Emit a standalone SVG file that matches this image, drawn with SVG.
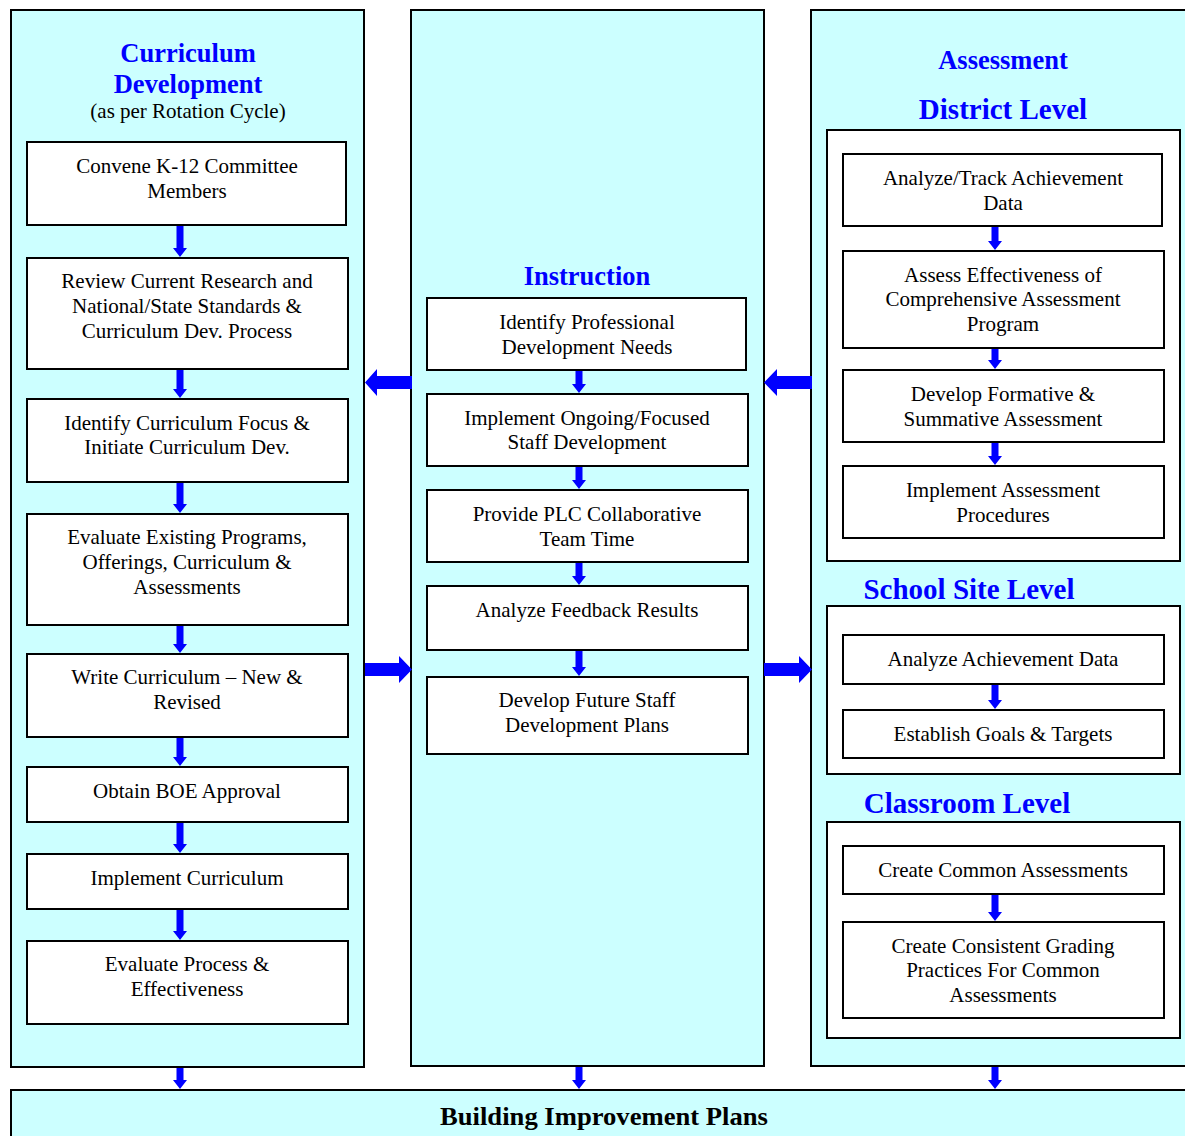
<svg xmlns="http://www.w3.org/2000/svg" width="1185" height="1136" viewBox="0 0 1185 1136">
<style>
.panel{fill:#ccffff;stroke:#000;stroke-width:2}
.inner{fill:#fff;stroke:#000;stroke-width:2}
.box{fill:#fff;stroke:#000;stroke-width:2}
.t{font-family:"Liberation Serif","Times New Roman",serif;font-size:21px;fill:#000;text-anchor:middle}
.h{font-family:"Liberation Serif","Times New Roman",serif;font-weight:bold;fill:#0000ff;text-anchor:middle}
.arr{fill:#0000ff}
</style>
<rect width="1185" height="1136" fill="#fff"/>

<g id="panel-curriculum">
<rect class="panel" x="11" y="10" width="353" height="1057"/>
<text class="h" x="188" y="62" font-size="26.5">Curriculum</text>
<text class="h" x="188" y="93" font-size="26.5">Development</text>
<text class="t" x="188" y="118">(as per Rotation Cycle)</text>
</g>
<g id="panel-instruction">
<rect class="panel" x="411" y="10" width="353" height="1056"/>
<text class="h" x="587" y="285" font-size="26.5">Instruction</text>
</g>
<g id="panel-assessment">
<rect class="panel" x="811" y="10" width="385" height="1056"/>
<text class="h" x="1003" y="69" font-size="26.5">Assessment</text>
<text class="h" x="1003" y="119" font-size="29">District Level</text>
<text class="h" x="969" y="599" font-size="29">School Site Level</text>
<text class="h" x="967" y="813" font-size="29">Classroom Level</text>
</g>
<g id="district-level"><rect class="inner" x="827" y="130" width="353" height="431"/></g>
<g id="school-site-level"><rect class="inner" x="827" y="606" width="353" height="168"/></g>
<g id="classroom-level"><rect class="inner" x="827" y="822" width="353" height="216"/></g>

<g id="c1"><rect class="box" x="27" y="142" width="319" height="83"/><text class="t" x="187" y="173">Convene K-12 Committee</text><text class="t" x="187" y="198">Members</text></g>
<g id="c2"><rect class="box" x="27" y="258" width="321" height="111"/><text class="t" x="187" y="288">Review Current Research and</text><text class="t" x="187" y="313">National/State Standards &amp;</text><text class="t" x="187" y="338">Curriculum Dev. Process</text></g>
<g id="c3"><rect class="box" x="27" y="399" width="321" height="83"/><text class="t" x="187" y="430">Identify Curriculum Focus &amp;</text><text class="t" x="187" y="454">Initiate Curriculum Dev.</text></g>
<g id="c4"><rect class="box" x="27" y="514" width="321" height="111"/><text class="t" x="187" y="544">Evaluate Existing Programs,</text><text class="t" x="187" y="569">Offerings, Curriculum &amp;</text><text class="t" x="187" y="594">Assessments</text></g>
<g id="c5"><rect class="box" x="27" y="654" width="321" height="83"/><text class="t" x="187" y="684">Write Curriculum – New &amp;</text><text class="t" x="187" y="709">Revised</text></g>
<g id="c6"><rect class="box" x="27" y="767" width="321" height="55"/><text class="t" x="187" y="798">Obtain BOE Approval</text></g>
<g id="c7"><rect class="box" x="27" y="854" width="321" height="55"/><text class="t" x="187" y="885">Implement Curriculum</text></g>
<g id="c8"><rect class="box" x="27" y="941" width="321" height="83"/><text class="t" x="187" y="971">Evaluate Process &amp;</text><text class="t" x="187" y="996">Effectiveness</text></g>

<g id="i1"><rect class="box" x="427" y="298" width="319" height="72"/><text class="t" x="587" y="329">Identify Professional</text><text class="t" x="587" y="354">Development Needs</text></g>
<g id="i2"><rect class="box" x="427" y="394" width="321" height="72"/><text class="t" x="587" y="425">Implement Ongoing/Focused</text><text class="t" x="587" y="449">Staff Development</text></g>
<g id="i3"><rect class="box" x="427" y="490" width="321" height="72"/><text class="t" x="587" y="521">Provide PLC Collaborative</text><text class="t" x="587" y="546">Team Time</text></g>
<g id="i4"><rect class="box" x="427" y="586" width="321" height="64"/><text class="t" x="587" y="617">Analyze Feedback Results</text></g>
<g id="i5"><rect class="box" x="427" y="677" width="321" height="77"/><text class="t" x="587" y="707">Develop Future Staff</text><text class="t" x="587" y="732">Development Plans</text></g>

<g id="a1"><rect class="box" x="843" y="154" width="319" height="72"/><text class="t" x="1003" y="185">Analyze/Track Achievement</text><text class="t" x="1003" y="210">Data</text></g>
<g id="a2"><rect class="box" x="843" y="251" width="321" height="97"/><text class="t" x="1003" y="282">Assess Effectiveness of</text><text class="t" x="1003" y="306">Comprehensive Assessment</text><text class="t" x="1003" y="331">Program</text></g>
<g id="a3"><rect class="box" x="843" y="370" width="321" height="72"/><text class="t" x="1003" y="401">Develop Formative &amp;</text><text class="t" x="1003" y="426">Summative Assessment</text></g>
<g id="a4"><rect class="box" x="843" y="466" width="321" height="72"/><text class="t" x="1003" y="497">Implement Assessment</text><text class="t" x="1003" y="522">Procedures</text></g>
<g id="s1"><rect class="box" x="843" y="635" width="321" height="49"/><text class="t" x="1003" y="666">Analyze Achievement Data</text></g>
<g id="s2"><rect class="box" x="843" y="710" width="321" height="48"/><text class="t" x="1003" y="741">Establish Goals &amp; Targets</text></g>
<g id="r1"><rect class="box" x="843" y="846" width="321" height="48"/><text class="t" x="1003" y="877">Create Common Assessments</text></g>
<g id="r2"><rect class="box" x="843" y="922" width="321" height="96"/><text class="t" x="1003" y="953">Create Consistent Grading</text><text class="t" x="1003" y="977">Practices For Common</text><text class="t" x="1003" y="1002">Assessments</text></g>

<g id="building-improvement-plans">
<rect class="panel" x="11" y="1090" width="1190" height="60"/>
<text x="604" y="1125" font-family="'Liberation Serif','Times New Roman',serif" font-weight="bold" font-size="25" text-anchor="middle" textLength="328" lengthAdjust="spacingAndGlyphs">Building Improvement Plans</text>
</g>

<g id="connectors" class="arr">
<polygon points="176.5,226 183.5,226 183.5,248 187,248 180,257 173,248 176.5,248"/>
<polygon points="176.5,370 183.5,370 183.5,389 187,389 180,398 173,389 176.5,389"/>
<polygon points="176.5,483 183.5,483 183.5,504 187,504 180,513 173,504 176.5,504"/>
<polygon points="176.5,626 183.5,626 183.5,644 187,644 180,653 173,644 176.5,644"/>
<polygon points="176.5,738 183.5,738 183.5,757 187,757 180,766 173,757 176.5,757"/>
<polygon points="176.5,823 183.5,823 183.5,844 187,844 180,853 173,844 176.5,844"/>
<polygon points="176.5,910 183.5,910 183.5,931 187,931 180,940 173,931 176.5,931"/>
<polygon points="176.5,1068 183.5,1068 183.5,1080 187,1080 180,1089 173,1080 176.5,1080"/>

<polygon points="575.5,371 582.5,371 582.5,384 586,384 579,393 572,384 575.5,384"/>
<polygon points="575.5,467 582.5,467 582.5,480 586,480 579,489 572,480 575.5,480"/>
<polygon points="575.5,563 582.5,563 582.5,576 586,576 579,585 572,576 575.5,576"/>
<polygon points="575.5,651 582.5,651 582.5,667 586,667 579,676 572,667 575.5,667"/>
<polygon points="575.5,1067 582.5,1067 582.5,1080 586,1080 579,1089 572,1080 575.5,1080"/>

<polygon points="991.5,227 998.5,227 998.5,241 1002,241 995,250 988,241 991.5,241"/>
<polygon points="991.5,349 998.5,349 998.5,360 1002,360 995,369 988,360 991.5,360"/>
<polygon points="991.5,443 998.5,443 998.5,456 1002,456 995,465 988,456 991.5,456"/>
<polygon points="991.5,685 998.5,685 998.5,700 1002,700 995,709 988,700 991.5,700"/>
<polygon points="991.5,895 998.5,895 998.5,912 1002,912 995,921 988,912 991.5,912"/>
<polygon points="991.5,1067 998.5,1067 998.5,1080 1002,1080 995,1089 988,1080 991.5,1080"/>

<polygon points="412,376 377,376 377,369 365,382.5 377,396 377,389 412,389"/>
<polygon points="365,663 399,663 399,656 412,669.5 399,683 399,676 365,676"/>
<polygon points="812,376 777,376 777,369 764,382.5 777,396 777,389 812,389"/>
<polygon points="764,663 799,663 799,656 812,669.5 799,683 799,676 764,676"/>
</g>
</svg>
